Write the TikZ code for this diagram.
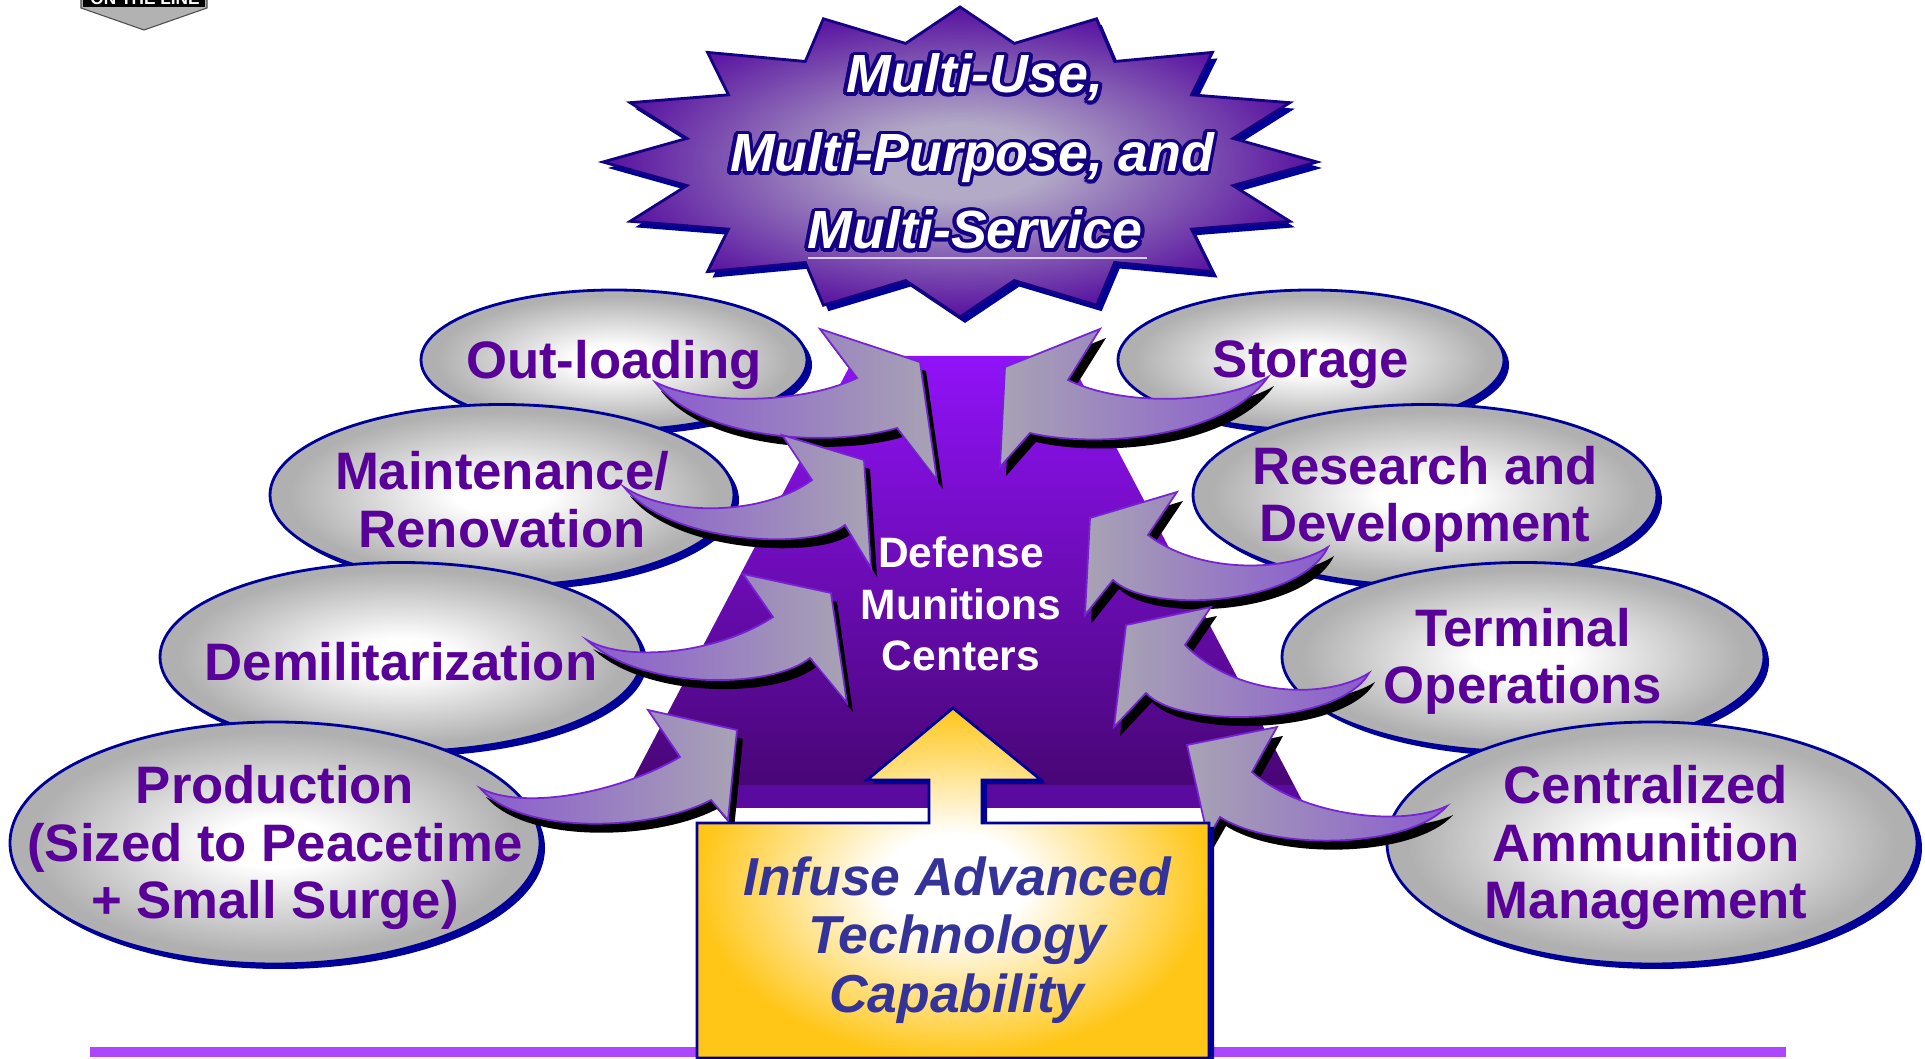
\documentclass[tikz,border=0pt]{standalone}
\usepackage{fontspec}
\setmainfont{Liberation Sans}
\usepackage{contour}
\contourlength{1.1pt}
\contournumber{16}
\usetikzlibrary{shapes,arrows,positioning,calc,shadows}
\definecolor{navyline}{RGB}{0,0,153}
\definecolor{ovalgray}{RGB}{176,176,176}
\definecolor{ovalpurple}{RGB}{88,0,152}
\definecolor{dmctop}{RGB}{145,18,248}
\definecolor{dmcbottom}{RGB}{72,6,118}
\definecolor{dmcband}{RGB}{90,10,158}
\definecolor{swooshpurple}{RGB}{138,92,206}
\definecolor{swooshgray}{RGB}{168,163,180}
\definecolor{swooshedge}{RGB}{118,36,210}
\definecolor{starcore}{RGB}{178,170,198}
\definecolor{staredge}{RGB}{92,24,162}
\definecolor{starline}{RGB}{20,0,130}
\definecolor{techgold}{RGB}{255,198,24}
\definecolor{techblue}{RGB}{51,51,153}
\definecolor{floorline}{RGB}{172,70,255}
\definecolor{underlinelav}{RGB}{215,205,240}

\pgfdeclareradialshading{ovalglow}{\pgfpoint{0bp}{0bp}}{color(0bp)=(white); color(5bp)=(white); color(23bp)=(ovalgray); color(50bp)=(ovalgray)}
\pgfdeclareradialshading{starglow}{\pgfpoint{0bp}{0bp}}{color(0bp)=(starcore); color(6bp)=(starcore); color(24bp)=(staredge); color(50bp)=(staredge)}
\pgfdeclareradialshading{techglow}{\pgfpoint{0bp}{0bp}}{color(0bp)=(white); color(7bp)=(white); color(25bp)=(techgold); color(50bp)=(techgold)}

\begin{document}
\begin{tikzpicture}[x=0.1mm, y=-0.1mm,
		oval/.style={ellipse, shade, shading=ovalglow, draw=navyline, line width=0.8pt, inner sep=0pt,
			drop shadow={fill=navyline, opacity=1, shadow xshift=0.5mm, shadow yshift=-0.5mm}},
		ovaltext/.style={font=\fontsize{15}{16.4}\selectfont\bfseries, text=ovalpurple, align=center, yshift=-0.45mm},
		swoosh/.style={draw=swooshedge, line width=0.5pt,
			drop shadow={fill=black, opacity=1, shadow xshift=0.6mm, shadow yshift=-0.9mm}},
		swooshleft/.style={swoosh, left color=swooshpurple, right color=swooshgray},
		swooshright/.style={swoosh, left color=swooshgray, right color=swooshpurple},
		mottotext/.style={font=\fontsize{15.3}{18}\selectfont\bfseries\itshape, text=white, inner sep=0pt, anchor=base},
		dmctext/.style={font=\fontsize{12.1}{14.7}\selectfont\bfseries, text=white, align=center},
		techtext/.style={font=\fontsize{15.2}{16.6}\selectfont\bfseries\itshape, text=techblue, align=center}]
				\useasboundingbox (0,0) rectangle (1925,1059);
				
				% Logo in the corner
				\filldraw[fill=black!30, draw=black!70, line width=0.3pt] (81,-5) -- (207,-5) -- (207,8) -- (144,30) -- (81,8) -- cycle;
				\fill[black] (83,-5) rectangle (205,7);
				\node[font=\fontsize{4.9}{5}\selectfont\bfseries, text=white, anchor=base, inner sep=0pt] (logo) at (145,5) {ON THE LINE};
				
				% Starburst with the motto
				\path[shade, shading=starglow, draw=starline, line width=0.8pt,
					drop shadow={fill=navyline, opacity=1, shadow xshift=0.5mm, shadow yshift=-0.6mm}]
					plot[samples at={0,...,31}, variable=\k]
					({960+357*(1-0.22*mod(\k,2))*cos(\k*11.25)}, {162+155*(1-0.22*mod(\k,2))*sin(\k*11.25)}) -- cycle;
				\node[mottotext] (motto1) at (975,93) {\contour{starline}{Multi-Use,}};
				\node[mottotext] (motto2) at (972,172) {\contour{starline}{Multi-Purpose, and}};
				\node[mottotext] (motto3) at (975,249) {\contour{starline}{Multi-Service}};
				\draw[underlinelav, line width=0.7pt] (808,258) -- (1147,258);
				
				% Center column
				\path[top color=dmctop, bottom color=dmcbottom] (855,356) -- (1068,356) -- (1294,785) -- (630,785) -- cycle;
				\fill[dmcband] (630,785) -- (1294,785) -- (1306,808) -- (618,808) -- cycle;
				\node[dmctext] (dmc) at (961,604) {Defense\\Munitions\\Centers};
				
				% Mission ovals, left side
				\node[oval, minimum width=38.6mm, minimum height=14mm, label={[ovaltext]center:Out-loading}] (outload) at (614,360) {};
				\node[oval, minimum width=46.4mm, minimum height=18.1mm, label={[ovaltext]center:{Maintenance/\\Renovation}}] (maint) at (502,495) {};
				\node[oval, minimum width=48.2mm, minimum height=18.9mm, label={[ovaltext]center:Demilitarization}] (demil) at (401,657) {};
				\node[oval, minimum width=53mm, minimum height=24.2mm, label={[ovaltext]center:{Production\\(Sized to Peacetime\\+ Small Surge)}}] (prod) at (275,843) {};
				
				% Mission ovals, right side
				\node[oval, minimum width=38.6mm, minimum height=14mm, label={[ovaltext]center:Storage}] (storage) at (1311,360) {};
				\node[oval, minimum width=46.4mm, minimum height=18.1mm, label={[ovaltext]center:{Research and\\Development}}] (randd) at (1425,495) {};
				\node[oval, minimum width=48.2mm, minimum height=18.9mm, label={[ovaltext]center:{Terminal\\Operations}}] (terminal) at (1523,657) {};
				\node[oval, minimum width=53mm, minimum height=24.2mm, label={[ovaltext, xshift=-0.6mm]center:{Centralized\\Ammunition\\Management}}] (cam) at (1652,843) {};
				
				% Curved arrows into the center, left side
				\path[swooshleft] (655,382) .. controls (700,405) and (800,405) .. (857,378) -- (820,329) -- (920,362) -- (937,480) -- (897,428) .. controls (830,448) and (700,440) .. (655,382) -- cycle;
				\path[swooshleft] (624,487) .. controls (665,515) and (760,518) .. (812,480) -- (782,435) -- (864,460) -- (871,568) -- (845,525) .. controls (815,550) and (670,545) .. (624,487) -- cycle;
				\path[swooshleft] (587,640) .. controls (625,662) and (715,655) .. (773,617) -- (743,574) -- (831,593) -- (847,703) -- (810,658) .. controls (770,690) and (640,690) .. (587,640) -- cycle;
				\path[swooshleft] (480,788) .. controls (520,810) and (615,795) .. (680,757) -- (648,710) -- (737,730) -- (728,820) -- (711,800) .. controls (650,832) and (520,835) .. (480,788) -- cycle;
				
				% Curved arrows into the center, right side
				\path[swooshright] (1268,377) .. controls (1225,403) and (1125,408) .. (1068,380) -- (1100,329) -- (1005,367) -- (1000,467) -- (1030,433) .. controls (1093,448) and (1223,440) .. (1268,377) -- cycle;
				\path[swooshright] (1328,547) .. controls (1290,572) and (1200,575) .. (1148,535) -- (1177,492) -- (1090,518) -- (1085,615) -- (1113,580) .. controls (1150,615) and (1300,605) .. (1328,547) -- cycle;
				\path[swooshright] (1369,673) .. controls (1330,698) and (1240,700) .. (1185,645) -- (1211,607) -- (1126,625) -- (1114,727) -- (1146,693) .. controls (1180,730) and (1340,725) .. (1369,673) -- cycle;
				\path[swooshright] (1447,806) .. controls (1400,828) and (1300,815) .. (1252,772) -- (1277,727) -- (1187,745) -- (1208,838) -- (1220,817) .. controls (1275,852) and (1410,848) .. (1447,806) -- cycle;
				
				% Floor line
				\draw[floorline, line width=1mm] (90,1052) -- (1786,1052);
				
				% Technology box with its arrow
				\path[shade, shading=techglow, draw=navyline, line width=0.8pt,
					drop shadow={fill=navyline, opacity=1, shadow xshift=0.5mm, shadow yshift=-0.4mm}]
					(697,823) -- (929,823) -- (929,780) -- (867,780) -- (953,708) -- (1041,780) -- (982,780) -- (982,823) -- (1209,823) -- (1209,1058) -- (697,1058) -- cycle;
				\node[techtext] (infuse) at (957,940) {Infuse Advanced\\Technology\\Capability};
			\end{tikzpicture}
\end{document}
